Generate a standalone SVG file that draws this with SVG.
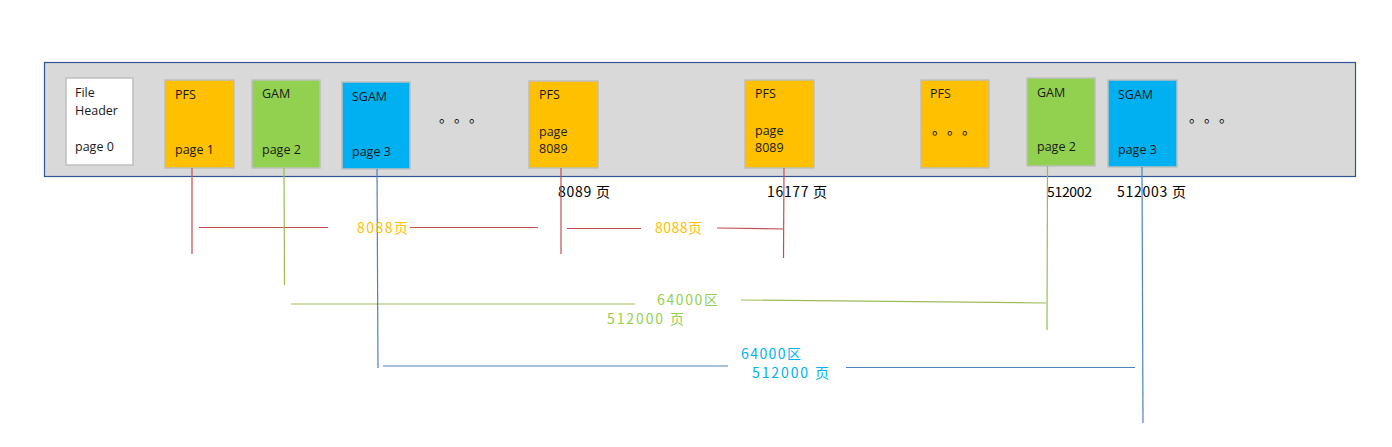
<svg xmlns="http://www.w3.org/2000/svg" width="1392" height="447" viewBox="0 0 1392 447">
<style>
.blk{stroke:#bfbfbf;stroke-width:1.5}
.t{font-family:"Open Sans","Noto Sans",sans-serif;font-size:12.5px;fill:#1a1a1a}
.lbl{font-family:"Noto Sans CJK SC",sans-serif;font-size:14px}
.r{stroke:#c0504d;stroke-width:1.2;fill:none}
.g{stroke:#9bbb59;stroke-width:1.2;fill:none}
.b{stroke:#4f81bd;stroke-width:1.2;fill:none}
.dots{font-family:"Noto Sans CJK SC",sans-serif;font-size:14px;fill:#000}
</style>
<rect width="1392" height="447" fill="#ffffff"/>
<g id="file">
<rect x="44.5" y="62.5" width="1311" height="114" fill="#d9d9d9" stroke="#2f5597" stroke-width="1.2"/>
</g>
<g id="fileheader">
<rect x="66" y="78" width="67" height="87" fill="#ffffff" class="blk"/>
<text class="t" x="75" y="97">File</text>
<text class="t" x="75" y="115">Header</text>
<text class="t" x="75" y="151">page 0</text>
</g>
<g id="pfs1">
<rect x="165" y="80" width="69" height="88" fill="#ffc000" class="blk"/>
<text class="t" x="175" y="99">PFS</text>
<text class="t" x="175" y="154">page 1</text>
</g>
<g id="gam1">
<rect x="252" y="80" width="68" height="88" fill="#92d050" class="blk"/>
<text class="t" x="262" y="98">GAM</text>
<text class="t" x="262" y="154">page 2</text>
</g>
<g id="sgam1">
<rect x="342" y="82" width="68" height="87" fill="#00b0f0" class="blk"/>
<text class="t" x="352" y="101">SGAM</text>
<text class="t" x="352" y="156">page 3</text>
</g>
<g id="dots1" class="dots">
<text x="439" y="122">。</text><text x="454" y="122">。</text><text x="469" y="122">。</text>
</g>
<g id="pfs2">
<rect x="529" y="81" width="69" height="87" fill="#ffc000" class="blk"/>
<text class="t" x="539" y="99">PFS</text>
<text class="t" x="539" y="136">page</text>
<text class="t" x="539" y="153">8089</text>
</g>
<g id="pfs3">
<rect x="745" y="80" width="69" height="88" fill="#ffc000" class="blk"/>
<text class="t" x="755" y="98">PFS</text>
<text class="t" x="755" y="135">page</text>
<text class="t" x="755" y="152">8089</text>
</g>
<g id="pfs4">
<rect x="921" y="80" width="68" height="88" fill="#ffc000" class="blk"/>
<text class="t" x="930" y="98">PFS</text>
<g class="dots"><text x="932" y="134">。</text><text x="947" y="134">。</text><text x="962" y="134">。</text></g>
</g>
<g id="gam2">
<rect x="1027" y="78" width="68" height="88" fill="#92d050" class="blk"/>
<text class="t" x="1037" y="97">GAM</text>
<text class="t" x="1037" y="151">page 2</text>
</g>
<g id="sgam2">
<rect x="1108" y="80" width="69" height="87" fill="#00b0f0" class="blk"/>
<text class="t" x="1118" y="99">SGAM</text>
<text class="t" x="1118" y="154">page 3</text>
</g>
<g id="dots2" class="dots">
<text x="1189" y="122">。</text><text x="1204" y="122">。</text><text x="1219" y="122">。</text>
</g>
<g id="pagelabels" class="lbl" fill="#000">
<text x="558" y="197" textLength="52" lengthAdjust="spacing">8089 页</text>
<text x="767" y="197" textLength="60" lengthAdjust="spacing">16177 页</text>
<text x="1047" y="197" textLength="45" lengthAdjust="spacing">512002</text>
<text x="1117" y="197" textLength="69" lengthAdjust="spacing">512003 页</text>
</g>
<g id="connectors">
<line class="r" x1="192" y1="168" x2="192" y2="254"/>
<line class="r" x1="199" y1="227.5" x2="328" y2="227.5"/>
<line class="r" x1="410" y1="227.5" x2="538" y2="227.5"/>
<line class="r" x1="561" y1="168" x2="561" y2="254"/>
<line class="r" x1="567" y1="228.5" x2="641" y2="228.5"/>
<line class="r" x1="717" y1="228" x2="783" y2="229"/>
<line class="r" x1="784" y1="168" x2="783.5" y2="258"/>
<line class="g" x1="284" y1="168" x2="284.5" y2="285"/>
<line class="g" x1="291" y1="304" x2="635" y2="304"/>
<line class="g" x1="741" y1="300" x2="1046" y2="303"/>
<line class="g" x1="1047.5" y1="166" x2="1047" y2="330"/>
<line class="b" x1="377" y1="169" x2="378" y2="368"/>
<line class="b" x1="383" y1="366" x2="728" y2="366"/>
<line class="b" x1="846" y1="367.5" x2="1135" y2="367.5"/>
<line class="b" x1="1142" y1="167" x2="1143" y2="423"/>
</g>
<g id="spanlabels" class="lbl">
<text x="357" y="233" fill="#ffc000" textLength="51" lengthAdjust="spacing">8088页</text>
<text x="655" y="233" fill="#ffc000" textLength="47" lengthAdjust="spacing">8088页</text>
<text x="657" y="305" fill="#92d050" textLength="61" lengthAdjust="spacing">64000区</text>
<text x="607" y="324" fill="#92d050" textLength="77" lengthAdjust="spacing">512000 页</text>
<text x="741" y="359" fill="#00b0f0" textLength="60" lengthAdjust="spacing">64000区</text>
<text x="752" y="378" fill="#00b0f0" textLength="77" lengthAdjust="spacing">512000 页</text>
</g>
</svg>
